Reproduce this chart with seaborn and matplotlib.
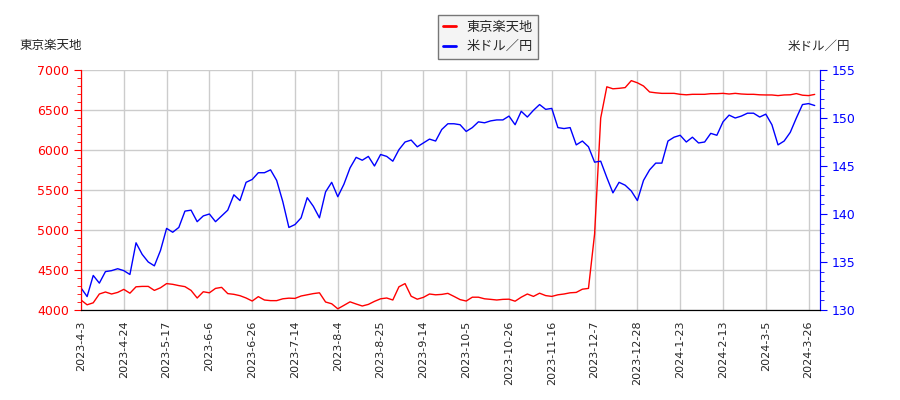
import numpy as np
import pandas as pd
import seaborn as sns
import matplotlib.pyplot as plt
from matplotlib.ticker import MultipleLocator
from matplotlib.lines import Line2D

# trading-day index (every 2nd session)
day_index = list(range(0, 241, 2))

rakutenchi = [
    4125, 4065, 4090, 4200, 4225, 4200, 4220, 4258, 4210, 4290,
    4295, 4295, 4245, 4278, 4330, 4321, 4305, 4292, 4245, 4150,
    4228, 4215, 4270, 4283, 4205, 4196, 4179, 4150, 4112, 4167,
    4125, 4117, 4117, 4140, 4148, 4145, 4175, 4190, 4205, 4215,
    4100, 4078, 4015, 4058, 4102, 4075, 4050, 4070, 4108, 4140,
    4150, 4125, 4290, 4330, 4172, 4135, 4158, 4200, 4190, 4195,
    4208, 4170, 4130, 4112, 4160, 4160, 4140, 4133, 4125, 4133,
    4135, 4110, 4160, 4200, 4170, 4210, 4180, 4170, 4190, 4200,
    4215, 4220, 4260, 4270, 4950, 6400, 6790, 6765, 6771, 6780,
    6867, 6840, 6800, 6725, 6715, 6708, 6708, 6708, 6696, 6690,
    6696, 6696, 6696, 6704, 6704, 6708, 6700, 6708, 6700, 6696,
    6696, 6690, 6688, 6688, 6680, 6688, 6690, 6705, 6685, 6680,
    6695,
]

usdjpy = [
    132.3, 131.4, 133.6, 132.8, 134.0, 134.1, 134.3, 134.1, 133.7, 137.0,
    135.8, 135.0, 134.6, 136.2, 138.5, 138.1, 138.6, 140.3, 140.4, 139.2,
    139.8, 140.0, 139.2, 139.8, 140.4, 142.0, 141.4, 143.3, 143.6, 144.3,
    144.3, 144.6, 143.5, 141.3, 138.6, 138.9, 139.6, 141.7, 140.8, 139.6,
    142.3, 143.3, 141.8, 143.1, 144.8, 145.9, 145.6, 146.0, 145.0, 146.2,
    146.0, 145.5, 146.7, 147.5, 147.7, 147.0, 147.4, 147.8, 147.6, 148.8,
    149.4, 149.4, 149.3, 148.6, 149.0, 149.6, 149.5, 149.7, 149.8, 149.8,
    150.2, 149.3, 150.7, 150.1, 150.8, 151.4, 150.9, 151.0, 149.0, 148.9,
    149.0, 147.2, 147.6, 147.0, 145.4, 145.5, 143.8, 142.2, 143.3, 143.0,
    142.4, 141.4, 143.5, 144.6, 145.3, 145.3, 147.6, 148.0, 148.2, 147.5,
    148.0, 147.4, 147.5, 148.4, 148.2, 149.6, 150.3, 150.0, 150.2, 150.5,
    150.5, 150.1, 150.4, 149.3, 147.2, 147.6, 148.5, 150.0, 151.4, 151.5,
    151.3,
]

tick_pos = list(range(0, 239, 14))
tick_labels = [
    "2023-4-3", "2023-4-24", "2023-5-17", "2023-6-6", "2023-6-26",
    "2023-7-14", "2023-8-4", "2023-8-25", "2023-9-14", "2023-10-5",
    "2023-10-26", "2023-11-16", "2023-12-7", "2023-12-28", "2024-1-23",
    "2024-2-13", "2024-3-5", "2024-3-26",
]

name_left = "東京楽天地"
name_right = "米ドル／円"

df = pd.DataFrame({"idx": day_index, "left": rakutenchi, "right": usdjpy})

sns.set_style("white")
plt.rcParams["font.family"] = ["DejaVu Sans", "Noto Sans CJK JP"]

fig = plt.figure(figsize=(9, 4), dpi=100)
ax = fig.add_axes([0.09, 0.225, 0.821, 0.6])
ax2 = ax.twinx()

sns.lineplot(data=df, x="idx", y="left", ax=ax, color="#ff0000", linewidth=1)
sns.lineplot(data=df, x="idx", y="right", ax=ax2, color="#0000ff", linewidth=1)

ax.set_xlim(0, 241.7)
ax.set_ylim(4000, 7000)
ax2.set_ylim(130, 155)

ax.set_xticks(tick_pos)
ax.set_xticklabels(tick_labels, rotation=90, fontsize=8)
ax.yaxis.set_major_locator(MultipleLocator(500))
ax.yaxis.set_minor_locator(MultipleLocator(100))
ax2.yaxis.set_major_locator(MultipleLocator(5))
ax2.yaxis.set_minor_locator(MultipleLocator(1))

ax.grid(True, color="#cccccc", linewidth=1)
ax.set_axisbelow(True)
ax.set_xlabel("")
ax.set_ylabel("")
ax2.set_ylabel("")

ax.tick_params(axis="x", direction="out", length=4, color="black", labelsize=8)
ax.tick_params(axis="y", which="both", colors="#ff0000", labelsize=9)
ax.tick_params(axis="y", which="major", length=5)
ax.tick_params(axis="y", which="minor", length=3)
ax2.tick_params(axis="y", which="both", colors="#0000ff", labelsize=9)
ax2.tick_params(axis="y", which="major", length=5)
ax2.tick_params(axis="y", which="minor", length=3)

for a in (ax, ax2):
    a.spines["top"].set_visible(False)
    a.spines["left"].set_color("#ff0000")
    a.spines["right"].set_color("#0000ff")
    a.spines["bottom"].set_color("black")

fig.text(0.022, 0.885, name_left, fontsize=9, va="center")
fig.text(0.945, 0.885, name_right, fontsize=9, va="center", ha="right")

handles = [Line2D([], [], color="#ff0000", linewidth=2),
           Line2D([], [], color="#0000ff", linewidth=2)]
leg = fig.legend(handles, [name_left, name_right], loc="upper center",
                 bbox_to_anchor=(0.542, 0.978), fontsize=9.5, fancybox=False,
                 handlelength=1.0, framealpha=1, edgecolor="#777777")
leg.get_frame().set_facecolor("#f4f4f4")

fig.savefig("out.png", dpi=100)
